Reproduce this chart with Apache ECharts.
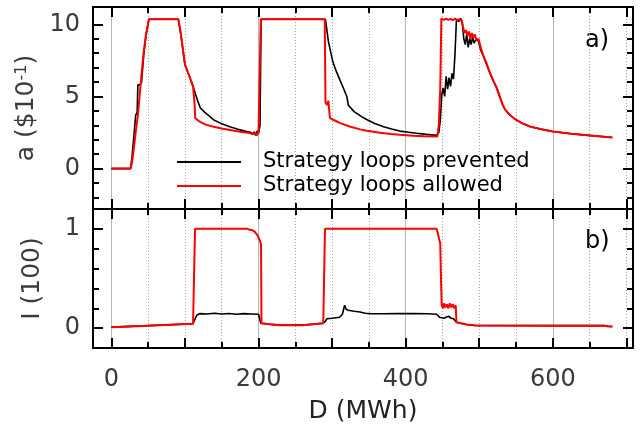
<!DOCTYPE html>
<html>
<head>
<meta charset="utf-8">
<script src="https://cdn.jsdelivr.net/npm/echarts@6/dist/echarts.min.js"></script>
<style>
  html, body { margin: 0; padding: 0; background: #fff; }
  #chart { width: 642px; height: 431px; }
</style>
</head>
<body>
<div id="chart"></div>
<script>
// Price a and imbalance I against demand D, for two bidding strategies.
const seriesNames = ['Strategy loops prevented', 'Strategy loops allowed'];

// Tick positions
const dTicksMinor = [0, 50, 100, 150, 200, 250, 300, 350, 400, 450, 500, 550, 600, 650, 700];
const dTicksMajor = [0, 100, 200, 300, 400, 500, 600, 700];
const dLabels = [0, 200, 400, 600];
const aTicksMinor = [-2, -1, 0, 1, 2, 3, 4, 5, 6, 7, 8, 9, 10];
const aTicksMajor = [0, 5, 10];
const iTicksMinor = [0, 0.2, 0.4, 0.6, 0.8, 1.0];
const iTicksMajor = [0, 1];

// Panel a): price, strategy loops prevented  [D, a]
const aPrevented = [
  [0,0],[26,0],[28,0.8],[31,2.5],[33,3.7],[35,3.9],[36,5.8],[39,5.8],[41,6.0],[44,7.9],[47,9.2],[51,10.35],
  [91,10.35],[94,9.4],[100,7.2],[106,6.4],[111,5.7],[114,5.2],[118,4.6],[121,4.2],[127,3.9],[134,3.6],
  [140,3.35],[150,3.1],[161,2.9],[172,2.72],[184,2.57],[190,2.5],[192,2.35],[194,2.55],[196,2.3],[198,2.6],
  [200,2.45],[202,3.0],[203.5,10.35],[291,10.35],[295,8.8],[301,7.4],[306,6.7],[311,6.1],[316,5.5],[320,5.0],
  [322,4.4],[330,3.95],[340,3.6],[347,3.4],[358,3.12],[370,2.9],[381,2.74],[392,2.6],[404,2.52],[415,2.45],
  [428,2.37],[442,2.3],[445,2.5],[447,3.3],[449,5.1],[451,5.6],[453,5.0],[455,6.4],[457,5.5],[459,6.3],
  [461,5.7],[463,6.6],[465,6.2],[467,7.9],[469,10.3],[472,10.2],[475,10.4],[477,10.1],[479,9.0],[481,8.6],
  [483,9.3],[485,8.4],[487,9.0],[489,8.6],[491,9.1],[493,8.7],[496,9.0],[499,8.8],[502,8.2],[505,7.9],
  [510,7.2],[514,6.7],[519,6.1],[524,5.6],[528,5.0],[532,4.4],[535,4.1],[541,3.75],[548,3.45],[558,3.15],
  [569,2.92],[585,2.72],[600,2.57],[625,2.42],[650,2.3],[681,2.16]
];

// Panel a): price, strategy loops allowed  [D, a]
const aAllowed = [
  [0,0],[26,0],[28,0.4],[30,1.2],[33,2.5],[36,3.7],[40,6.0],[43.5,7.9],[47,9.3],[51,10.35],
  [91,10.35],[94,9.5],[100,7.2],[106,6.4],[111,5.7],[113,4.5],[114,3.5],[120,3.25],[128,3.05],[139,2.9],
  [150,2.78],[161,2.68],[175,2.55],[188,2.46],[192,2.4],[194,2.28],[196,2.45],[198,2.3],[200,2.55],[202,2.5],
  [203,10.35],[290,10.35],[291,4.6],[293,4.4],[295,4.7],[297,3.5],[305,3.3],[311,3.15],[325,2.9],[338,2.72],
  [347,2.62],[365,2.48],[380,2.4],[392,2.34],[410,2.28],[425,2.25],[443,2.22],[445,3.0],[447,5.5],[448.5,10.4],
  [452,10.3],[455,10.4],[458,10.3],[461,10.38],[464,10.28],[467,10.4],[470,10.3],[473,10.36],[476,10.25],
  [478,10.3],[480,9.4],[482,9.6],[484,9.2],[486,9.5],[488,9.0],[490,9.4],[492,9.1],[494,9.3],[496,8.9],
  [499,9.0],[502,8.4],[505,7.9],[510,7.3],[514,6.7],[519,6.1],[523.5,5.6],[528,4.95],[532,4.4],[535,4.1],
  [541,3.75],[548,3.45],[558,3.15],[569,2.92],[585,2.72],[600,2.57],[625,2.42],[650,2.3],[681,2.16]
];

// Panel b): imbalance, strategy loops prevented  [D, I]
const iPrevented = [
  [0,0.01],[50,0.025],[111,0.045],[113.7,0.05],[116,0.13],[120,0.146],[130,0.142],[140,0.15],[150,0.143],
  [160,0.148],[170,0.14],[180,0.146],[190,0.143],[200,0.14],[202,0.14],[203,0.05],[215,0.04],[229,0.03],
  [260,0.03],[288,0.05],[291,0.07],[293,0.095],[300,0.1],[310,0.11],[314,0.14],[317,0.23],[319,0.19],
  [322,0.18],[330,0.17],[338,0.163],[345,0.15],[352,0.146],[370,0.145],[390,0.147],[410,0.146],[430,0.145],
  [442,0.14],[446,0.11],[452,0.1],[458,0.12],[462,0.1],[465,0.095],[467,0.08],[469,0.06],[475,0.05],
  [483,0.037],[495,0.027],[600,0.025],[670,0.025],[675,0.018],[681,0.017]
];

// Panel b): imbalance, strategy loops allowed  [D, I]
const iAllowed = [
  [0,0.01],[50,0.025],[111,0.045],[113,0.045],[113.7,1.0],[150,1.0],[185,1.0],[188,0.99],[190,1.01],
  [192,0.985],[195,0.97],[199,0.93],[202,0.88],[203.4,0.84],[204,0.05],[215,0.04],[229,0.03],[260,0.03],
  [288,0.05],[290,0.05],[290.3,1.0],[442,1.0],[443,0.99],[444,0.95],[445.6,0.89],[447,0.85],[448,0.5],
  [449,0.23],[451,0.2],[452,0.25],[454,0.21],[456,0.24],[458,0.2],[460,0.25],[462,0.21],[464,0.24],
  [466,0.2],[468,0.23],[469,0.06],[475,0.05],[483,0.037],[495,0.027],[600,0.025],[670,0.025],
  [675,0.018],[681,0.017]
];

const FONT = '"DejaVu Sans", sans-serif';
const LABEL_COLOR = '#3a3a3a';
const D_MIN = -25, D_MAX = 709;
const frame = { color: '#000', width: 2 };

// Five stacked x axes per panel: minor ticks (bottom/top), major ticks (bottom/top), solid grid lines
function dAxes(grid, withLabels) {
  const base = { gridIndex: grid, type: 'value', min: D_MIN, max: D_MAX, axisLabel: { show: false } };
  return [
    Object.assign({}, base, {
      position: 'bottom',
      axisLine: { show: true, onZero: false, lineStyle: frame },
      axisTick: { show: true, inside: true, length: 6, customValues: dTicksMinor, lineStyle: frame },
      splitLine: { show: true, lineStyle: { color: '#a8a8a8', type: [1, 2], width: 1 } }
    }),
    Object.assign({}, base, {
      position: 'top',
      axisLine: { show: true, onZero: false, lineStyle: frame },
      axisTick: { show: true, inside: true, length: 6, customValues: dTicksMinor, lineStyle: frame },
      splitLine: { show: false }
    }),
    Object.assign({}, base, {
      position: 'bottom',
      axisLine: { show: false, onZero: false },
      axisTick: { show: true, inside: true, length: 10, customValues: dTicksMajor, lineStyle: frame },
      splitLine: { show: false },
      axisLabel: withLabels ? {
        show: true, customValues: dLabels, margin: 20,
        fontFamily: FONT, fontSize: 24, color: LABEL_COLOR
      } : { show: false },
      name: withLabels ? 'D (MWh)' : '',
      nameLocation: 'middle', nameGap: 51,
      nameTextStyle: { fontFamily: FONT, fontSize: 25, color: '#222' }
    }),
    Object.assign({}, base, {
      position: 'top',
      axisLine: { show: false, onZero: false },
      axisTick: { show: true, inside: true, length: 10, customValues: dTicksMajor, lineStyle: frame },
      splitLine: { show: false }
    }),
    Object.assign({}, base, {
      position: 'bottom',
      axisLine: { show: false, onZero: false },
      axisTick: { show: false, customValues: dLabels },
      splitLine: { show: true, lineStyle: { color: '#b8b8b8', type: 'solid', width: 1 } }
    })
  ];
}

// Four y axes per panel: minor ticks (left/right), major ticks with labels (left/right)
function valueAxes(grid, min, max, minor, major, name, nameStyle, gap) {
  const base = { gridIndex: grid, type: 'value', min: min, max: max, splitLine: { show: false }, axisLabel: { show: false } };
  return [
    Object.assign({}, base, {
      position: 'left',
      axisLine: { show: true, onZero: false, lineStyle: frame },
      axisTick: { show: true, inside: true, length: 6, customValues: minor, lineStyle: frame }
    }),
    Object.assign({}, base, {
      position: 'right',
      axisLine: { show: true, onZero: false, lineStyle: frame },
      axisTick: { show: true, inside: true, length: 6, customValues: minor, lineStyle: frame }
    }),
    Object.assign({}, base, {
      position: 'left',
      axisLine: { show: false, onZero: false },
      axisTick: { show: true, inside: true, length: 10, customValues: major, lineStyle: frame },
      axisLabel: { show: true, customValues: major, margin: 13, fontFamily: FONT, fontSize: 24, color: LABEL_COLOR },
      name: name, nameLocation: 'middle', nameRotate: 90, nameGap: gap,
      nameTextStyle: nameStyle
    }),
    Object.assign({}, base, {
      position: 'right',
      axisLine: { show: false, onZero: false },
      axisTick: { show: true, inside: true, length: 10, customValues: major, lineStyle: frame }
    })
  ];
}

const nameStyle = { fontFamily: FONT, fontSize: 25, color: LABEL_COLOR };
const nameStyleSup = {
  fontFamily: FONT, fontSize: 25, color: LABEL_COLOR,
  rich: { s: { fontFamily: FONT, fontSize: 16, color: LABEL_COLOR, verticalAlign: 'top' } }
};

const option = {
  animation: false,
  backgroundColor: '#fff',
  grid: [
    { left: 93, right: 9, top: 7, height: 202 },
    { left: 93, right: 9, top: 209, height: 139 }
  ],
  xAxis: [].concat(dAxes(0, false), dAxes(1, true)),
  yAxis: [].concat(
    valueAxes(0, -2.8, 11.2, aTicksMinor, aTicksMajor, 'a ($10{s|-1})', nameStyleSup, 46),
    valueAxes(1, -0.2, 1.2, iTicksMinor, iTicksMajor, 'I (100)', nameStyle, 48)
  ),
  legend: {
    data: seriesNames.map(function (n) { return { name: n, icon: 'rect' }; }),
    orient: 'vertical',
    left: 172, top: 145,
    itemWidth: 64, itemHeight: 2, itemGap: 0,
    selectedMode: false,
    textStyle: { fontFamily: FONT, fontSize: 21, color: '#000', lineHeight: 24, padding: [0, 0, 0, 17] }
  },
  graphic: [
    { type: 'text', left: 585, top: 29, style: { text: 'a)', font: '24px "DejaVu Sans"', fill: '#000' } },
    { type: 'text', left: 585, top: 230, style: { text: 'b)', font: '24px "DejaVu Sans"', fill: '#000' } }
  ],
  series: [
    { name: seriesNames[0], type: 'line', xAxisIndex: 0, yAxisIndex: 0, data: aPrevented,
      symbol: 'none', lineStyle: { color: '#000', width: 1.6 }, itemStyle: { color: '#000' } },
    { name: seriesNames[1], type: 'line', xAxisIndex: 0, yAxisIndex: 0, data: aAllowed,
      symbol: 'none', lineStyle: { color: '#ff0000', width: 2 }, itemStyle: { color: '#ff0000' } },
    { name: seriesNames[0], type: 'line', xAxisIndex: 5, yAxisIndex: 4, data: iPrevented,
      symbol: 'none', lineStyle: { color: '#000', width: 1.6 }, itemStyle: { color: '#000' } },
    { name: seriesNames[1], type: 'line', xAxisIndex: 5, yAxisIndex: 4, data: iAllowed,
      symbol: 'none', lineStyle: { color: '#ff0000', width: 2 }, itemStyle: { color: '#ff0000' } }
  ]
};

const chart = echarts.init(document.getElementById('chart'), null, { renderer: 'canvas' });
chart.setOption(option);
</script>
</body>
</html>
